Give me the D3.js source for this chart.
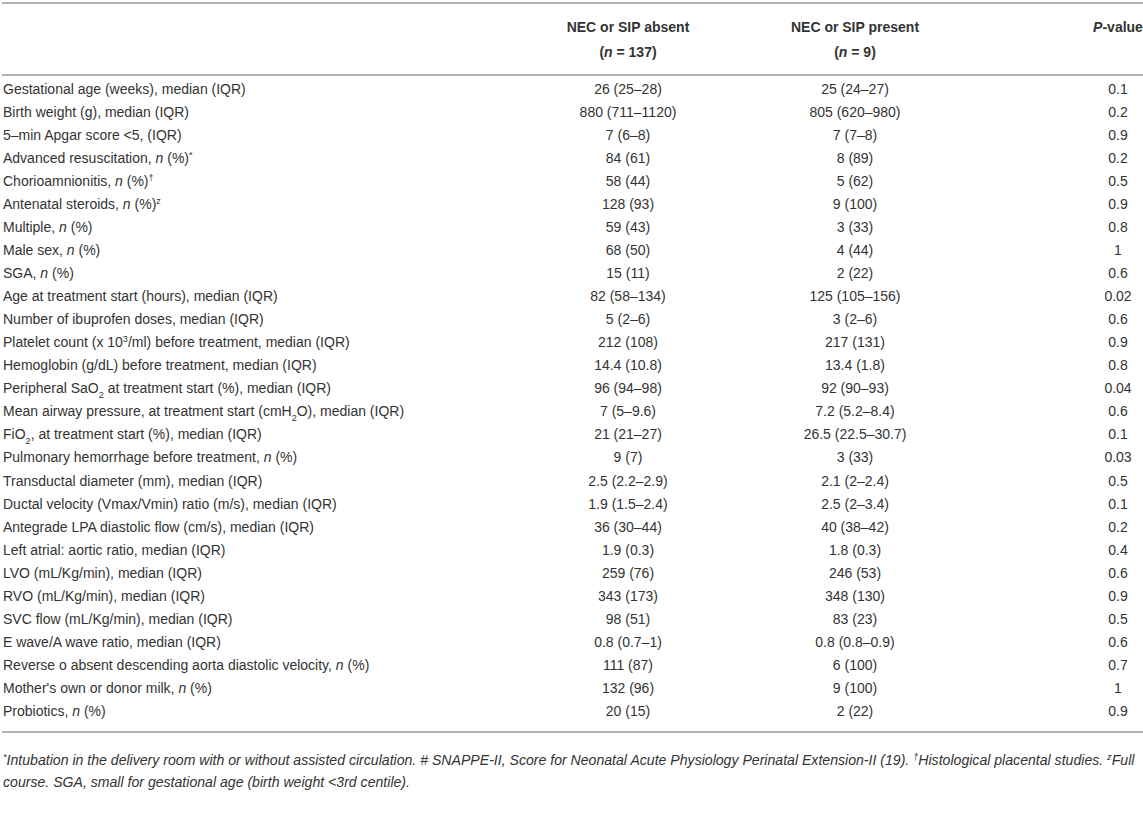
<!DOCTYPE html>
<html>
<head>
<meta charset="utf-8">
<script src="https://cdn.jsdelivr.net/npm/d3@7"></script>
<style>
  body { margin: 0; background: #fff; }
  text { font-family: "Liberation Sans", Arial, sans-serif; fill: #333; }
</style>
</head>
<body>
<div id="table"></div>
<script>
// row labels; _x_ = italic, ^x^ = superscript, ~x~ = subscript
var labels = [
  "Gestational age (weeks), median (IQR)",
  "Birth weight (g), median (IQR)",
  "5–min Apgar score <5, (IQR)",
  "Advanced resuscitation, _n_ (%)^*^",
  "Chorioamnionitis, _n_ (%)^†^",
  "Antenatal steroids, _n_ (%)^z^",
  "Multiple, _n_ (%)",
  "Male sex, _n_ (%)",
  "SGA, _n_ (%)",
  "Age at treatment start (hours), median (IQR)",
  "Number of ibuprofen doses, median (IQR)",
  "Platelet count (x 10^3^/ml) before treatment, median (IQR)",
  "Hemoglobin (g/dL) before treatment, median (IQR)",
  "Peripheral SaO~2~ at treatment start (%), median (IQR)",
  "Mean airway pressure, at treatment start (cmH~2~O), median (IQR)",
  "FiO~2~, at treatment start (%), median (IQR)",
  "Pulmonary hemorrhage before treatment, _n_ (%)",
  "Transductal diameter (mm), median (IQR)",
  "Ductal velocity (Vmax/Vmin) ratio (m/s), median (IQR)",
  "Antegrade LPA diastolic flow (cm/s), median (IQR)",
  "Left atrial: aortic ratio, median (IQR)",
  "LVO (mL/Kg/min), median (IQR)",
  "RVO (mL/Kg/min), median (IQR)",
  "SVC flow (mL/Kg/min), median (IQR)",
  "E wave/A wave ratio, median (IQR)",
  "Reverse o absent descending aorta diastolic velocity, _n_ (%)",
  "Mother's own or donor milk, _n_ (%)",
  "Probiotics, _n_ (%)"
];

var absent = [
  "26 (25–28)", "880 (711–1120)", "7 (6–8)", "84 (61)", "58 (44)", "128 (93)",
  "59 (43)", "68 (50)", "15 (11)", "82 (58–134)", "5 (2–6)", "212 (108)",
  "14.4 (10.8)", "96 (94–98)", "7 (5–9.6)", "21 (21–27)", "9 (7)", "2.5 (2.2–2.9)",
  "1.9 (1.5–2.4)", "36 (30–44)", "1.9 (0.3)", "259 (76)", "343 (173)", "98 (51)",
  "0.8 (0.7–1)", "111 (87)", "132 (96)", "20 (15)"
];

var present = [
  "25 (24–27)", "805 (620–980)", "7 (7–8)", "8 (89)", "5 (62)", "9 (100)",
  "3 (33)", "4 (44)", "2 (22)", "125 (105–156)", "3 (2–6)", "217 (131)",
  "13.4 (1.8)", "92 (90–93)", "7.2 (5.2–8.4)", "26.5 (22.5–30.7)", "3 (33)", "2.1 (2–2.4)",
  "2.5 (2–3.4)", "40 (38–42)", "1.8 (0.3)", "246 (53)", "348 (130)", "83 (23)",
  "0.8 (0.8–0.9)", "6 (100)", "9 (100)", "2 (22)"
];

var pvalues = [
  "0.1", "0.2", "0.9", "0.2", "0.5", "0.9", "0.8", "1", "0.6", "0.02", "0.6", "0.9",
  "0.8", "0.04", "0.6", "0.1", "0.03", "0.5", "0.1", "0.2", "0.4", "0.6", "0.9", "0.5",
  "0.6", "0.7", "1", "0.9"
];

var headers = [
  ["**NEC or SIP absent**", "**(_n_ = 137)**"],
  ["**NEC or SIP present**", "**(_n_ = 9)**"],
  ["**_P_-value**"]
];

var footnotes = [
  "^*^Intubation in the delivery room with or without assisted circulation. # SNAPPE-II, Score for Neonatal Acute Physiology Perinatal Extension-II (19). ^†^Histological placental studies. ^z^Full",
  "course. SGA, small for gestational age (birth weight <3rd centile)."
];

var width = 1143, height = 824,
    bodySize = "14px";

var svg = d3.select("#table").append("svg")
  .attr("width", width)
  .attr("height", height);

// row positions
var y = d3.scalePoint()
  .domain(d3.range(labels.length))
  .range([89, 711]);

// column centres
var x = d3.scaleOrdinal()
  .domain(["label", "absent", "present", "p"])
  .range([3, 628, 855, 1118]);

// tiny markup parser -> tspans
function rich(sel, str) {
  var parts = str.split(/(\*\*|_|\^|~)/);
  var bold = false, ital = false, sup = false, sub = false;
  parts.forEach(function(p) {
    if (p === "**") { bold = !bold; return; }
    if (p === "_") { ital = !ital; return; }
    if (p === "^") { sup = !sup; return; }
    if (p === "~") { sub = !sub; return; }
    if (!p) return;
    var t = sel.append("tspan").text(p);
    if (bold) t.attr("font-weight", "bold");
    if (ital) t.attr("font-style", "italic");
    if (sup) t.attr("baseline-shift", "super").attr("font-size", "0.65em");
    if (sub) t.attr("baseline-shift", "sub").attr("font-size", "0.65em");
  });
}

// rules
svg.selectAll("line.rule")
  .data([3, 75, 732])
  .enter().append("line")
  .attr("class", "rule")
  .attr("x1", 2).attr("x2", width)
  .attr("y1", function(d) { return d; })
  .attr("y2", function(d) { return d; })
  .style("stroke", "#b3b3b3")
  .style("stroke-width", 2);

// header
var hcols = ["absent", "present", "p"];
headers.forEach(function(lines, i) {
  lines.forEach(function(l, j) {
    var t = svg.append("text")
      .attr("x", x(hcols[i]))
      .attr("y", 27 + j * 25)
      .attr("dy", ".35em")
      .attr("text-anchor", "middle")
      .style("font-size", "14px");
    rich(t, l);
  });
});

// body rows
var rows = svg.selectAll("g.row")
  .data(labels)
  .enter().append("g")
  .attr("class", "row")
  .attr("transform", function(d, i) { return "translate(0," + y(i) + ")"; });

rows.append("text")
  .attr("x", x("label"))
  .attr("dy", ".35em")
  .style("font-size", bodySize)
  .each(function(d) { rich(d3.select(this), d); });

rows.append("text")
  .attr("x", x("absent"))
  .attr("dy", ".35em")
  .attr("text-anchor", "middle")
  .style("font-size", bodySize)
  .text(function(d, i) { return absent[i]; });

rows.append("text")
  .attr("x", x("present"))
  .attr("dy", ".35em")
  .attr("text-anchor", "middle")
  .style("font-size", bodySize)
  .text(function(d, i) { return present[i]; });

rows.append("text")
  .attr("x", x("p"))
  .attr("dy", ".35em")
  .attr("text-anchor", "middle")
  .style("font-size", bodySize)
  .text(function(d, i) { return pvalues[i]; });

// footnotes
footnotes.forEach(function(f, i) {
  var t = svg.append("text")
    .attr("x", 3)
    .attr("y", 760 + i * 22)
    .attr("dy", ".35em")
    .style("font-size", "14.1px")
    .style("font-style", "italic");
  rich(t, f);
});
</script>
</body>
</html>
